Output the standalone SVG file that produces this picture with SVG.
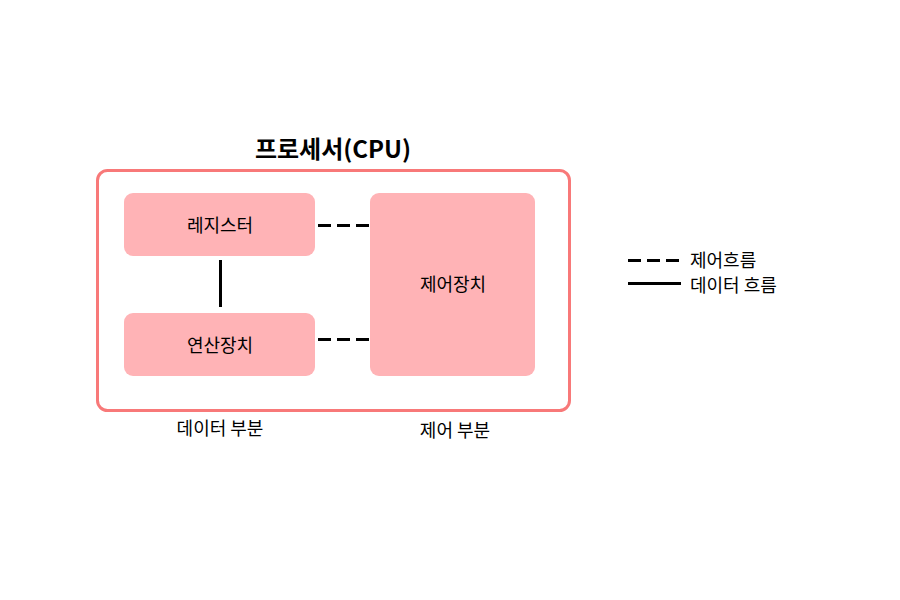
<svg xmlns="http://www.w3.org/2000/svg" width="900" height="600" viewBox="0 0 900 600">
<style>
text{font-family:"Noto Sans CJK KR","Noto Sans",sans-serif;fill:#000;text-anchor:middle;dominant-baseline:central}
.lbl{font-size:18px}
.node{fill:#ffb3b6}
.dash{stroke:#000;stroke-width:3;fill:none;stroke-dasharray:13 6}
.solid{stroke:#000;stroke-width:3;fill:none}
</style>
<rect width="900" height="600" fill="#fff"/>
<g id="cpu">
<rect x="97.5" y="170.5" width="472" height="240" rx="10" fill="none" stroke="#f87979" stroke-width="3"/>
<text x="333" y="147" style="font-size:24px;font-weight:bold">프로세서(CPU)</text>
</g>
<g id="register"><rect class="node" x="124" y="193" width="191" height="63" rx="9"/><text class="lbl" x="220" y="224">레지스터</text></g>
<g id="alu"><rect class="node" x="124" y="313" width="191" height="63" rx="9"/><text class="lbl" x="220" y="344">연산장치</text></g>
<g id="control"><rect class="node" x="370" y="193" width="165" height="183" rx="9"/><text class="lbl" x="453" y="283">제어장치</text></g>
<g id="connectors">
<line class="dash" x1="318" y1="225.5" x2="369" y2="225.5"/>
<line class="dash" x1="318" y1="339.5" x2="369" y2="339.5"/>
<line class="solid" x1="220.5" y1="260" x2="220.5" y2="307"/>
</g>
<g id="labels">
<text class="lbl" x="220" y="427">데이터 부분</text>
<text class="lbl" x="455" y="429">제어 부분</text>
</g>
<g id="legend">
<line class="dash" x1="628" y1="260.5" x2="680" y2="260.5"/>
<line class="solid" x1="628" y1="283.5" x2="681" y2="283.5"/>
<text class="lbl" x="690" y="259" style="text-anchor:start">제어흐름</text>
<text class="lbl" x="690" y="284" style="text-anchor:start">데이터 흐름</text>
</g>
</svg>
